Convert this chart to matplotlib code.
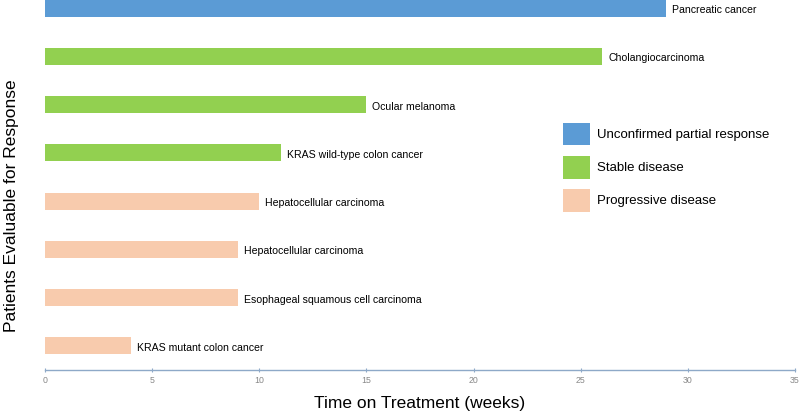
import matplotlib.pyplot as plt
from matplotlib.patches import Patch

plt.rcParams['font.family'] = ['Liberation Sans', 'DejaVu Sans']

# bottom to top
tumours = [
    'KRAS mutant colon cancer',
    'Esophageal squamous cell carcinoma',
    'Hepatocellular carcinoma',
    'Hepatocellular carcinoma',
    'KRAS wild-type colon cancer',
    'Ocular melanoma',
    'Cholangiocarcinoma',
    'Pancreatic cancer',
]
weeks = [4, 9, 9, 10, 11, 15, 26, 29]
responses = ['PD', 'PD', 'PD', 'PD', 'SD', 'SD', 'SD', 'uPR']

response_names = {
    'uPR': 'Unconfirmed partial response',
    'SD': 'Stable disease',
    'PD': 'Progressive disease',
}
response_colors = {'uPR': '#5B9BD5', 'SD': '#92D050', 'PD': '#F8CBAD'}

fig = plt.figure(figsize=(8, 4.11), dpi=100)
ax = fig.add_axes([0.05625, 0.0998, 0.9375, 0.9002])

positions = list(range(len(tumours)))
ax.barh(positions, weeks, height=0.35,
        color=[response_colors[r] for r in responses])

for pos, w, name in zip(positions, weeks, tumours):
    ax.text(w + 0.28, pos - 0.04, name, ha='left', va='center', fontsize=7.6)

ax.set_xlim(0, 35)
ax.set_ylim(-0.5, 7.17)
ax.set_xticks(range(0, 36, 5))
ax.set_yticks([])
ax.tick_params(axis='x', labelsize=6.3, labelcolor='#888888', color='#8EA9C8',
               length=3, direction='inout', pad=3)
for side in ['top', 'right', 'left']:
    ax.spines[side].set_visible(False)
ax.spines['bottom'].set_color('#8EA9C8')
ax.spines['bottom'].set_linewidth(1)

ax.set_xlabel('Time on Treatment (weeks)', fontsize=12.5, labelpad=8)
fig.text(0.014, 0.5, 'Patients Evaluable for Response', rotation=90,
         ha='center', va='center', fontsize=12.5)

handles = [Patch(facecolor=response_colors[k], edgecolor='none', label=v)
           for k, v in response_names.items()]
ax.legend(handles=handles, loc='upper left', bbox_to_anchor=(0.683, 0.682),
          frameon=False, fontsize=9.5, handlelength=2.1, handleheight=2.25,
          labelspacing=0.8, handletextpad=0.55, borderaxespad=0)

fig.savefig('out.png', dpi=100)
